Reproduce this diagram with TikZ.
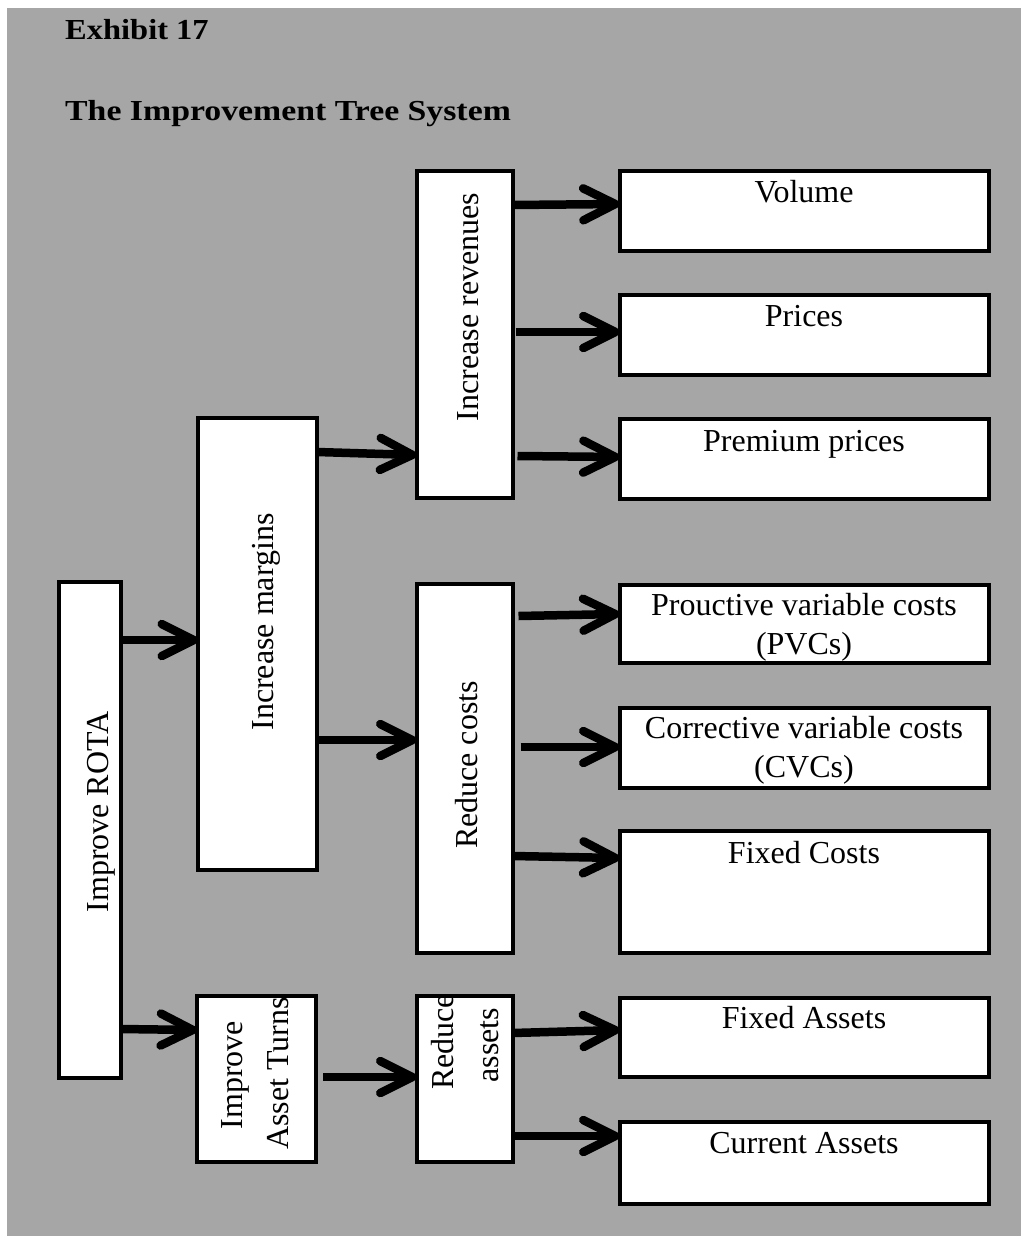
\documentclass[tikz,border=0pt]{standalone}
\usepackage{graphicx}
\usepackage{fontspec}
\setmainfont{Liberation Serif}
\usetikzlibrary{arrows.meta,calc}
\definecolor{bggray}{HTML}{A6A6A6}
\begin{document}
\begin{tikzpicture}[x=1pt,y=-1pt,
  box/.style={draw=black, line width=4pt, fill=white, inner sep=0pt, outer sep=0pt},
  arr/.style={line width=8.5pt, -{Straight Barb[length=32pt,width=32pt,round]}},
  lbl/.style={font=\fontsize{32}{38}\selectfont, inner sep=0pt, anchor=base},
  vlbl/.style={font=\fontsize{32}{38}\selectfont, inner sep=0pt, anchor=base, rotate=90},
  ttl/.style={font=\fontsize{29}{34}\selectfont\bfseries, inner sep=0pt, anchor=base west}]
\useasboundingbox (0,0) rectangle (1021,1236);
\fill[bggray] (7,8) rectangle (1021,1236);

\node[ttl] (t1) at (65,40) {\scalebox{1.12}[1]{Exhibit 17}};
\node[ttl] (t2) at (65,121) {\scalebox{1.165}[1]{The Improvement Tree System}};

% boxes
\node[box, minimum width=61.5pt, minimum height=496pt] (rota) at (89.75,830) {};
\node[box, minimum width=119pt, minimum height=452pt] (margins) at (257.5,644) {};
\node[box, minimum width=119pt, minimum height=166pt] (turns) at (256.5,1079) {};
\node[box, minimum width=96pt, minimum height=327pt] (revenues) at (464.5,334.5) {};
\node[box, minimum width=96pt, minimum height=369pt] (costs) at (464.5,768.5) {};
\node[box, minimum width=96pt, minimum height=166pt] (rassets) at (464.5,1079) {};
\node[box, minimum width=369pt, minimum height=80pt] (volume) at (804,211) {};
\node[box, minimum width=369pt, minimum height=80pt] (prices) at (804,335) {};
\node[box, minimum width=369pt, minimum height=80pt] (premium) at (804,459) {};
\node[box, minimum width=369pt, minimum height=78pt] (pvc) at (804,624) {};
\node[box, minimum width=369pt, minimum height=80pt] (cvc) at (804,748) {};
\node[box, minimum width=369pt, minimum height=122pt] (fixedc) at (804,892) {};
\node[box, minimum width=369pt, minimum height=79pt] (fixeda) at (804,1037.5) {};
\node[box, minimum width=369pt, minimum height=82pt] (current) at (804,1163) {};

% labels
\node[vlbl] (lrota) at (108,812) {Improve ROTA};
\node[vlbl] (lmargins) at (273,622) {Increase margins};
\node[vlbl] (lrev) at (478,307) {Increase revenues};
\node[vlbl] (lcosts) at (477,765) {Reduce costs};
\node[vlbl] (lturns1) at (242,1075) {Improve};
\node[vlbl] (lturns2) at (288,1073.5) {Asset Turns};
\node[vlbl] (lra1) at (453,1042) {Reduce};
\node[vlbl] (lra2) at (498,1045) {assets};

\node[lbl] (lvol) at (804,202) {Volume};
\node[lbl] (lpri) at (804,326) {Prices};
\node[lbl] (lprem) at (804,451) {Premium prices};
\node[lbl] (lpvc1) at (804,615) {Prouctive variable costs};
\node[lbl] (lpvc2) at (804,654) {(PVCs)};
\node[lbl] (lcvc1) at (804,738) {Corrective variable costs};
\node[lbl] (lcvc2) at (804,777) {(CVCs)};
\node[lbl] (lfc) at (804,863) {Fixed Costs};
\node[lbl] (lfa) at (804,1028) {Fixed Assets};
\node[lbl] (lca) at (804,1153) {Current Assets};

% arrows
\draw[arr] (rota.east |- 0,640) -- (margins.west |- 0,640);
\draw[arr] (rota.east |- 0,1029) -- (turns.west |- 0,1030);
\draw[arr] (margins.east |- 0,452) -- (revenues.west |- 0,455);
\draw[arr] (margins.east |- 0,740) -- (costs.west |- 0,740);
\draw[arr] ($(turns.east |- 0,1077)+(7,0)$) -- (rassets.west |- 0,1077);
\draw[arr] (revenues.east |- 0,205) -- (volume.west |- 0,204);
\draw[arr] ($(revenues.east |- 0,332)+(3,0)$) -- (prices.west |- 0,332);
\draw[arr] ($(revenues.east |- 0,456)+(5,0)$) -- (premium.west |- 0,457);
\draw[arr] ($(costs.east |- 0,616)+(6,0)$) -- (pvc.west |- 0,614);
\draw[arr] ($(costs.east |- 0,747)+(8,0)$) -- (cvc.west |- 0,747);
\draw[arr] (costs.east |- 0,856) -- (fixedc.west |- 0,858);
\draw[arr] (rassets.east |- 0,1033) -- (fixeda.west |- 0,1030);
\draw[arr] ($(rassets.east |- 0,1136)+(2,0)$) -- (current.west |- 0,1136);
\end{tikzpicture}
\end{document}
